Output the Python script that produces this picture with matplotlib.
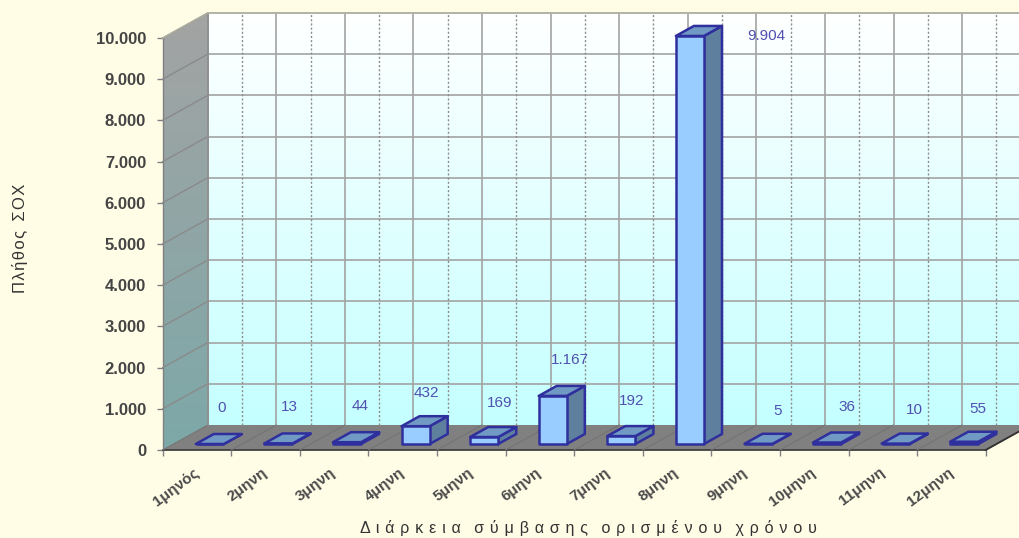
import numpy as np
import matplotlib
matplotlib.use('Agg')
import matplotlib.pyplot as plt
from matplotlib.patches import Polygon
from matplotlib.transforms import ScaledTranslation

plt.rcParams['font.family'] = ['Liberation Sans', 'DejaVu Sans']

# Data
months = ['1μηνός', '2μηνη', '3μηνη', '4μηνη', '5μηνη', '6μηνη',
          '7μηνη', '8μηνη', '9μηνη', '10μηνη', '11μηνη', '12μηνη']
counts = [0, 13, 44, 432, 169, 1167, 192, 9904, 5, 36, 10, 55]
count_labels = ['0', '13', '44', '432', '169', '1.167', '192', '9.904', '5', '36', '10', '55']
y_ticks = [0, 1000, 2000, 3000, 4000, 5000, 6000, 7000, 8000, 9000, 10000]
y_tick_labels = ['0', '1.000', '2.000', '3.000', '4.000', '5.000',
                 '6.000', '7.000', '8.000', '9.000', '10.000']

W, H = 1019, 538
left, right, bottom, top = 162.7, 985.7, 450, 38  # front plane in pixels

fig = plt.figure(figsize=(W / 100, H / 100), dpi=100, facecolor='#FFFDE6')
ax = fig.add_axes([left / W, 1 - bottom / H, (right - left) / W, (bottom - top) / H])
ax.patch.set_alpha(0)

n = len(months)
y_max = 10000

# depth of the fake 3d box, in data units
px_x = (right - left) / n
px_y = (bottom - top) / y_max
depth_x = 45 / px_x
depth_y = 25 / px_y


def proj(x, y, d):
    return (x + d * depth_x, y + d * depth_y)


def face(pts, **kw):
    p = Polygon(pts, closed=True, clip_on=False, **kw)
    ax.add_patch(p)
    return p


def spaced(text, sep=' \u200a'):
    # the original has wide letter spacing
    return sep.join(text)


# back wall gradient
wall = np.linspace(0, 1, 256).reshape(-1, 1, 1)
c_top = np.array([1.0, 1.0, 1.0])
c_bot = np.array([0.77, 1.0, 1.0])
wall_img = c_top * (1 - wall) + c_bot * wall
ax.imshow(wall_img, extent=[depth_x, n + depth_x, depth_y, y_max + depth_y],
          aspect='auto', origin='upper', clip_on=False, zorder=1)

# side wall gradient
side_img = (np.array([0.64, 0.64, 0.64]) * (1 - wall)
            + np.array([0.49, 0.66, 0.66]) * wall)
im = ax.imshow(side_img, extent=[0, depth_x, 0, y_max + depth_y],
               aspect='auto', origin='upper', zorder=1)
clip = Polygon([proj(0, 0, 0), proj(0, 0, 1), proj(0, y_max, 1), proj(0, y_max, 0)],
               closed=True, transform=ax.transData)
im.set_clip_path(clip)
im.set_clip_box(fig.bbox)

ax.set_xlim(0, n)
ax.set_ylim(0, y_max)

# floor
face([proj(0, 0, 0), proj(n, 0, 0), proj(n, 0, 1), proj(0, 0, 1)],
     facecolor='#808080', edgecolor='none', zorder=2)

# grid on walls and floor
grid_col = '#A3A3A3'
for v in y_ticks[1:]:
    ax.plot(*zip(proj(0, v, 1), proj(n, v, 1)), color=grid_col, lw=1.2, clip_on=False, zorder=3)
    ax.plot(*zip(proj(0, v, 0), proj(0, v, 1)), color='#8A8A8A', lw=1.0, clip_on=False, zorder=3)
for i in range(n + 1):
    ax.plot(*zip(proj(i, 0, 1), proj(i, y_max, 1)), color=grid_col, lw=1.2, clip_on=False, zorder=3)
    ax.plot(*zip(proj(i, 0, 0), proj(i, 0, 1)), color='#747474', lw=0.8, clip_on=False, zorder=3)
for i in range(n):
    ax.plot(*zip(proj(i + 0.5, 0, 1), proj(i + 0.5, y_max, 1)), color='#8C8C8C', lw=1.0,
            ls=(0, (1.5, 1.5)), clip_on=False, zorder=3)
ax.plot(*zip(proj(0, 0, 1), proj(0, y_max, 1)), color='#8C8C8C', lw=1.2, clip_on=False, zorder=3)
ax.plot(*zip(proj(n, 0, 0), proj(n, 0, 1)), color='#303030', lw=1.3, clip_on=False, zorder=3)
ax.plot(*zip(proj(0, y_max, 0), proj(0, y_max, 1)), color='#B0B0A0', lw=1.0, clip_on=False, zorder=3)
ax.plot(*zip(proj(0, y_max, 1), proj(n, y_max, 1)), color='#B5B5A8', lw=1.2, clip_on=False, zorder=3)

# bars
bar_w = 0.41
bar_shift = 0.03
d0, d1 = 0.24, 0.64
edge = '#2F2F9E'
for i, v in enumerate(counts):
    x0 = i + 0.5 + bar_shift - bar_w / 2
    x1 = i + 0.5 + bar_shift + bar_w / 2
    face([proj(x1, 0, d0), proj(x1, 0, d1), proj(x1, v, d1), proj(x1, v, d0)],
         facecolor='#5F7F9F', edgecolor=edge, lw=1.8, zorder=5, joinstyle='round')
    face([proj(x0, v, d0), proj(x1, v, d0), proj(x1, v, d1), proj(x0, v, d1)],
         facecolor='#7099C4', edgecolor=edge, lw=1.8, zorder=5, joinstyle='round')
    face([proj(x0, 0, d0), proj(x1, 0, d0), proj(x1, v, d0), proj(x0, v, d0)],
         facecolor='#99CCFF', edgecolor=edge, lw=1.8, zorder=6, joinstyle='round')

# value labels, Excel moved the tall one next to its bar
label_nudge = [12, 11, 13, 11, 15, 17, 10, 76, 19, 20, 19, 14]
label_rise = [36, 36, 36, 33, 34, 36, 35, 0, 33, 36, 34, 33]
for i, v in enumerate(counts):
    bx, by = proj(i + 0.5 + bar_shift, v, d0)
    ax.annotate(count_labels[i], (bx, by), xytext=(label_nudge[i], label_rise[i]),
                textcoords='offset pixels', ha='center', va='center', fontsize=11,
                color='#5050B0', annotation_clip=False, zorder=7)

# axes ticks and labels
for s in ax.spines.values():
    s.set_visible(False)
ax.spines['bottom'].set_visible(True)
ax.spines['bottom'].set_color('#404040')
ax.spines['bottom'].set_linewidth(1.3)
ax.spines['left'].set_visible(True)
ax.spines['left'].set_color('#808080')
ax.spines['left'].set_linewidth(1.0)

ax.set_yticks(y_ticks)
ax.set_yticklabels(y_tick_labels, fontsize=12, fontweight='bold', color='#444444')
ax.tick_params(axis='y', length=4, width=1, color='#808080', pad=8)

ax.set_xticks(np.arange(n + 1))
ax.set_xticklabels([])
ax.tick_params(axis='x', which='major', length=4, width=1, color='#808080')
ax.set_xticks(np.arange(n) + 0.5, minor=True)
ax.set_xticklabels(months, minor=True, rotation=37, ha='right', va='top',
                   rotation_mode='anchor', fontsize=11, fontweight='bold', color='#4A4A4A')
ax.tick_params(axis='x', which='minor', length=0, pad=11)
# labels sit a touch left of the category centre
for lab in ax.get_xticklabels(minor=True):
    lab.set_transform(lab.get_transform() + ScaledTranslation(-3 / 72, 0, fig.dpi_scale_trans))

fig.text(20 / W, 1 - 238 / H, spaced('Πλήθος', '\u200a') + '  ' + spaced('ΣΟΧ', '\u200a'),
         rotation=90, ha='center', va='center', fontsize=12, color='#333333')
fig.text(588 / W, 1 - 528 / H,
         '   '.join(spaced(w) for w in ['Διάρκεια', 'σύμβασης', 'ορισμένου', 'χρόνου']),
         ha='center', va='center', fontsize=11.5, color='#333333')

fig.savefig('out.png', dpi=100, facecolor=fig.get_facecolor())
